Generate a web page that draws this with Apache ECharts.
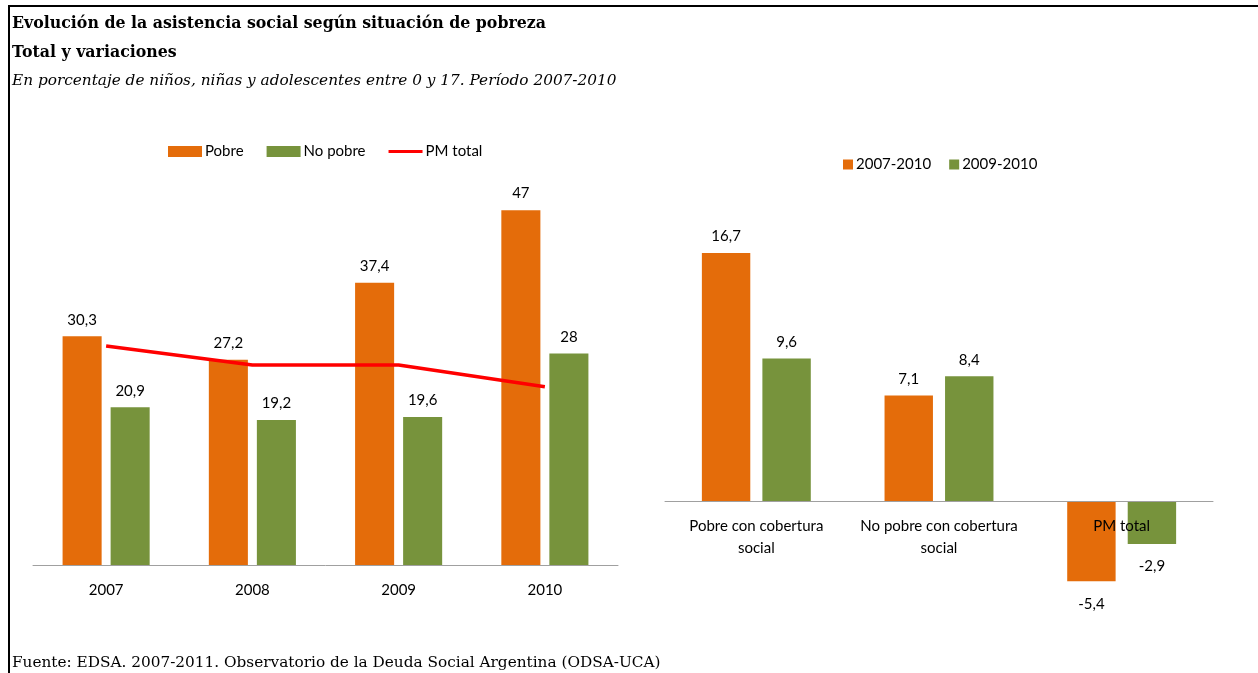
<!DOCTYPE html>
<html>
<head>
<meta charset="utf-8">
<script src="https://cdn.jsdelivr.net/npm/echarts@6/dist/echarts.min.js"></script>
<style>
html,body{margin:0;padding:0;background:#fff;}
#c{width:1258px;height:673px;}
</style>
</head>
<body>
<div id="c"></div>
<script>
// ---- Data ----
const years = ['2007', '2008', '2009', '2010'];
const pobre = [30.3, 27.2, 37.4, 47];
const noPobre = [20.9, 19.2, 19.6, 28];
const pmTotal = [29.0, 26.5, 26.5, 23.6];

const varCategories = ['Pobre con cobertura\nsocial', 'No pobre con cobertura\nsocial', 'PM total'];
const var0710 = [16.7, 7.1, -5.4];
const var0910 = [9.6, 8.4, -2.9];

const titleText = 'Evolución de la asistencia social según situación de pobreza';
const subtitleText = 'Total y variaciones';
const noteText = 'En porcentaje de niños, niñas y adolescentes entre 0 y 17. Período 2007-2010';
const sourceText = 'Fuente: EDSA. 2007-2011. Observatorio de la Deuda Social Argentina (ODSA-UCA)';

// ---- Styles ----
const ORANGE = '#E46C0A';
const GREEN = '#77933C';
const RED = '#FF0000';
const FONT = 'Lato';
const SERIF = 'DejaVu Serif';

const fmt = v => String(v).replace('.', ',');

const chart = echarts.init(document.getElementById('c'), null, {renderer: 'canvas'});

function varData(arr) {
  return arr.map(v => ({
    value: v,
    label: v < 0 ? {position: 'bottom', distance: 15} : {position: 'top', distance: 9}
  }));
}

const labelStyle = {
  show: true,
  fontFamily: FONT,
  fontSize: 15,
  color: '#000',
  distance: 9,
  formatter: p => fmt(p.value)
};

// right grid geometry: baseline (value 0) sits at y = top + max * pxPerUnit
const R_TOP = 233.7, R_HEIGHT = 356.4, R_MIN = -6, R_MAX = 18;
const R_ZERO_OFFSET = -(R_HEIGHT * (0 - R_MIN) / (R_MAX - R_MIN));

const option = {
  animation: false,
  backgroundColor: '#fff',
  textStyle: {fontFamily: FONT},
  title: [
    {text: titleText, left: 12, top: 16, padding: 0,
     textStyle: {fontFamily: SERIF, fontSize: 15.8, fontWeight: 'bold', color: '#000'}},
    {text: subtitleText, left: 12, top: 45, padding: 0,
     textStyle: {fontFamily: SERIF, fontSize: 15.8, fontWeight: 'bold', color: '#000'}},
    {text: noteText, left: 12, top: 74, padding: 0,
     textStyle: {fontFamily: SERIF, fontSize: 15.3, fontStyle: 'italic', fontWeight: 'normal', color: '#000'}},
    {text: sourceText, left: 12, top: 656, padding: 0,
     textStyle: {fontFamily: SERIF, fontSize: 15.3, fontWeight: 'normal', color: '#000'}}
  ],
  graphic: [
    {type: 'line', shape: {x1: 8, y1: 6, x2: 1258, y2: 6}, style: {stroke: '#000', lineWidth: 2}},
    {type: 'line', shape: {x1: 9, y1: 5, x2: 9, y2: 673}, style: {stroke: '#000', lineWidth: 2}}
  ],
  legend: [
    {
      left: 168, top: 144, padding: 0,
      itemWidth: 34, itemHeight: 11, itemGap: 23,
      textStyle: {fontFamily: FONT, fontSize: 15, color: '#000', padding: [0, 0, 0, -2]},
      data: [
        {name: 'Pobre', icon: 'rect'},
        {name: 'No pobre', icon: 'rect'},
        {name: 'PM total', icon: 'path://M0,0 L34,0 L34,3 L0,3 Z'}
      ]
    },
    {
      left: 843, top: 157, padding: 0,
      itemWidth: 10, itemHeight: 10, itemGap: 18,
      textStyle: {fontFamily: FONT, fontSize: 15, color: '#000', padding: [0, 0, 0, -2]},
      data: [
        {name: '2007-2010', icon: 'rect'},
        {name: '2009-2010', icon: 'rect'}
      ]
    }
  ],
  grid: [
    {left: 33, width: 585, top: 187.5, height: 377.5, containLabel: false},
    {left: 665, width: 548, top: R_TOP, height: R_HEIGHT, containLabel: false}
  ],
  xAxis: [
    {
      type: 'category', gridIndex: 0, data: years,
      axisLine: {lineStyle: {color: '#A0A0A0', width: 1}},
      axisTick: {show: false},
      axisLabel: {fontFamily: FONT, fontSize: 15, color: '#000', margin: 18}
    },
    {
      type: 'category', gridIndex: 1, data: varCategories,
      position: 'bottom', offset: R_ZERO_OFFSET,
      axisLine: {onZero: false, lineStyle: {color: '#A0A0A0', width: 1}},
      axisTick: {show: false},
      axisLabel: {fontFamily: FONT, fontSize: 15, color: '#000', margin: 14, lineHeight: 22, interval: 0},
      z: 10
    }
  ],
  yAxis: [
    {type: 'value', gridIndex: 0, min: 0, max: 50, show: false, splitLine: {show: false}},
    {type: 'value', gridIndex: 1, min: R_MIN, max: R_MAX, show: false, splitLine: {show: false}}
  ],
  series: [
    {
      name: 'Pobre', type: 'bar', xAxisIndex: 0, yAxisIndex: 0,
      data: pobre, barWidth: '26.7%', barGap: '23%',
      itemStyle: {color: ORANGE},
      label: Object.assign({position: 'top'}, labelStyle)
    },
    {
      name: 'No pobre', type: 'bar', xAxisIndex: 0, yAxisIndex: 0,
      data: noPobre, barWidth: '26.7%', barGap: '23%',
      itemStyle: {color: GREEN},
      label: Object.assign({position: 'top'}, labelStyle)
    },
    {
      name: 'PM total', type: 'line', xAxisIndex: 0, yAxisIndex: 0,
      data: pmTotal, symbol: 'none', showSymbol: false,
      lineStyle: {color: RED, width: 3.5},
      itemStyle: {color: RED},
      z: 5
    },
    {
      name: '2007-2010', type: 'bar', xAxisIndex: 1, yAxisIndex: 1,
      data: varData(var0710), barWidth: '26.5%', barGap: '25%',
      itemStyle: {color: ORANGE},
      label: labelStyle
    },
    {
      name: '2009-2010', type: 'bar', xAxisIndex: 1, yAxisIndex: 1,
      data: varData(var0910), barWidth: '26.5%', barGap: '25%',
      itemStyle: {color: GREEN},
      label: labelStyle
    }
  ]
};

chart.setOption(option);
</script>
</body>
</html>
